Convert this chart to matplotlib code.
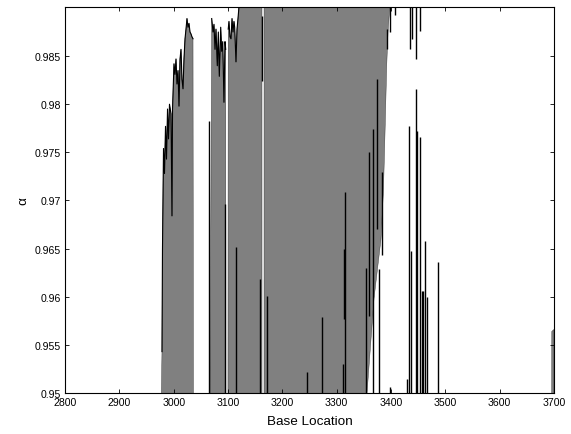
import matplotlib
matplotlib.use('Agg')
import matplotlib.pyplot as plt

# gray area blocks (polygon outlines, values below 0.95 / above top are clipped)
block1_x = [2975.0, 2978.5, 2979.4, 2981.3, 2983.1, 2985.0, 2986.8, 2988.7, 2990.5, 2992.3,
            2995.1, 2996.9, 2997.9, 3000.6, 3002.4, 3004.3, 3006.1, 3008.0, 3009.8, 3011.7,
            3013.5, 3015.3, 3017.2, 3019.0, 3020.9, 3022.7, 3024.5, 3026.4, 3028.2, 3030.1,
            3031.9, 3033.7, 3035.6, 3036.5]
block1_y = [0.94, 0.9543, 0.9649, 0.9754, 0.9728, 0.9777, 0.9743, 0.9795, 0.9764, 0.9800,
            0.9790, 0.9684, 0.9795, 0.9842, 0.9831, 0.9847, 0.9821, 0.9835, 0.9798, 0.9847,
            0.9857, 0.9826, 0.9816, 0.9847, 0.9868, 0.9878, 0.9889, 0.9880, 0.9884, 0.9875,
            0.9873, 0.9870, 0.9868, 0.94]

block2_x = [3066.3, 3070.0, 3072.4, 3074.2, 3076.1, 3077.9, 3080.3, 3082.2, 3084.0, 3086.6,
            3088.4, 3090.3, 3092.6, 3094.5, 3095.8, 3096.2]
block2_y = [0.94, 0.9889, 0.9875, 0.9883, 0.9857, 0.9878, 0.9840, 0.9875, 0.9829, 0.9880,
            0.9855, 0.9865, 0.9802, 0.9865, 0.9857, 0.94]

block3_x = [3099.8, 3100.4, 3101.8, 3103.7, 3105.5, 3107.4, 3109.2, 3111.0, 3112.3, 3114.7,
            3116.6, 3118.4, 3120.3, 3122.1, 3162.5, 3162.6]
block3_y = [0.94, 0.9878, 0.9886, 0.9870, 0.9868, 0.9889, 0.9875, 0.9886, 0.9880, 0.9844,
            0.9878, 0.9889, 0.9902, 1.0, 1.0, 0.94]

block4_x = [3166.3, 3166.4, 3399.5, 3394.5, 3392.1, 3389.0, 3386.2, 3381.6, 3368.7, 3355.9,
            3355.5]
block4_y = [0.94, 1.0, 0.9915, 0.9875, 0.9840, 0.9771, 0.9712, 0.9660, 0.9598, 0.9500,
            0.94]

block5_x = [3695.5, 3696.0, 3700.0, 3700.0]
block5_y = [0.94, 0.9564, 0.9566, 0.94]

# black spikes: location, low end, high end
spike_x = [3065.0, 3094.5, 3114.7, 3158.9, 3161.8, 3170.9, 3244.7, 3272.4, 3311.1, 3314.0,
           3315.7, 3354.0, 3359.0, 3367.4, 3373.7, 3378.0, 3383.0, 3393.2, 3399.0, 3407.5,
           3398.0, 3430.0, 3433.5, 3435.0, 3437.5, 3438.1, 3445.5, 3446.3, 3448.4, 3453.4,
           3453.8, 3457.0, 3459.4, 3463.1, 3465.7, 3486.5]
spike_lo = [0.94, 0.94, 0.94, 0.94, 0.9824, 0.94, 0.94, 0.94, 0.94, 0.9577,
            0.94, 0.94, 0.9580, 0.94, 0.9670, 0.94, 0.9643, 0.9857, 0.9875, 0.9893,
            0.94, 0.94, 0.94, 0.9857, 0.94, 0.9868, 0.94, 0.9847, 0.94, 0.94,
            0.9876, 0.94, 0.94, 0.94, 0.94, 0.94]
spike_hi = [0.9783, 0.9696, 0.9652, 0.9618, 0.9892, 0.9601, 0.9522, 0.9579, 0.9530, 0.9650,
            0.9709, 0.9630, 0.9750, 0.9774, 0.9826, 0.9629, 0.9730, 0.9878, 0.9910, 0.9910,
            0.9506, 0.9515, 0.9777, 0.9910, 0.9647, 0.9910, 0.9816, 0.9910, 0.9772, 0.9766,
            0.9910, 0.9606, 0.9606, 0.9658, 0.9600, 0.9636]

xticks = [2800, 2900, 3000, 3100, 3200, 3300, 3400, 3500, 3600, 3700]
yticks = [0.95, 0.955, 0.96, 0.965, 0.97, 0.975, 0.98, 0.985]
ytick_labels = ['0.95', '0.955', '0.96', '0.965', '0.97', '0.975', '0.98', '0.985']

plt.rcParams['font.family'] = ['Liberation Sans', 'DejaVu Sans']

fig = plt.figure(figsize=(5.71, 4.35), dpi=100)
ax = fig.add_axes([65/571, 1-394/435, 489/571, 386/435])

for bx, by in [(block1_x, block1_y), (block2_x, block2_y), (block3_x, block3_y),
               (block4_x, block4_y), (block5_x, block5_y)]:
    ax.fill(bx, by, facecolor='#808080', edgecolor='#303030', linewidth=0.3)

# jagged tops drawn in black
for bx, by in [(block1_x, block1_y), (block2_x, block2_y), (block3_x, block3_y)]:
    ax.plot(bx[1:-1], by[1:-1], color='black', linewidth=0.8)

ax.vlines(spike_x, spike_lo, spike_hi, colors='black', linewidth=1.0)

ax.set_xlim(2800, 3700)
ax.set_ylim(0.95, 0.9901)
ax.set_xticks(xticks)
ax.set_xticklabels([str(t) for t in xticks])
ax.set_yticks(yticks)
ax.set_yticklabels(ytick_labels)
ax.tick_params(direction='in', length=3, width=0.6, labelsize=7.6,
               top=True, right=True, pad=3)
for s in ax.spines.values():
    s.set_linewidth(0.8)

ax.set_xlabel('Base Location', fontsize=9.7, labelpad=6)
ax.set_ylabel('α', fontsize=9.7, labelpad=4)

fig.savefig('out.png', dpi=100)
